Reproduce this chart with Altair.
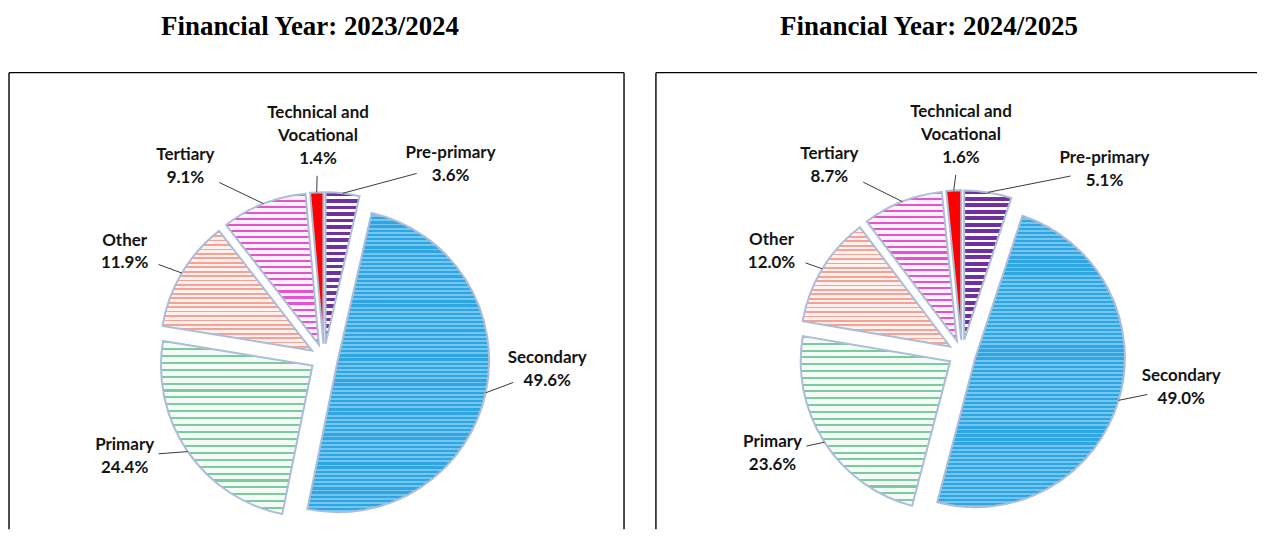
import math
import textwrap
import altair as alt
import pandas as pd

# ---------------- data ----------------
categories = ["Pre-primary", "Secondary", "Primary", "Other", "Tertiary",
              "Technical and Vocational"]
share_2023_24 = [3.6, 49.6, 24.4, 11.9, 9.1, 1.4]
share_2024_25 = [5.1, 49.0, 23.6, 12.0, 8.7, 1.6]
titles = ["Financial Year: 2023/2024", "Financial Year: 2024/2025"]

# ---------------- layout (pixels) ----------------
# label centre offsets from the pie centre
label_offsets_2023_24 = {
    "Pre-primary": (127, -194), "Secondary": (224, 12), "Primary": (-200, 99),
    "Other": (-200, -106), "Tertiary": (-139, -192),
    "Technical and Vocational": (-6, -222),
}
label_offsets_2024_25 = {
    "Pre-primary": (143, -185), "Secondary": (220, 34), "Primary": (-190, 100),
    "Other": (-191, -103), "Tertiary": (-133, -189),
    "Technical and Vocational": (-1, -219),
}

EXPLODE = 14
OUTLINE = "#adbdd8"
LINE_H = 23


def stripes(color_a, color_b, n, frac):
    stops = []
    for i in range(n):
        a0 = round(i / n, 5)
        a1 = round((i + frac) / n, 5)
        b1 = round((i + 1) / n, 5)
        stops += [
            alt.GradientStop(color=color_a, offset=a0),
            alt.GradientStop(color=color_a, offset=a1),
            alt.GradientStop(color=color_b, offset=a1),
            alt.GradientStop(color=color_b, offset=b1),
        ]
    return alt.LinearGradient(gradient="linear", stops=stops, x1=0, y1=0, x2=0, y2=1)


FILLS = {
    "Pre-primary": stripes("#7030a0", "#ffffff", 23, 0.55),
    "Secondary": stripes("#2fa6e2", "#74c6ef", 72, 0.55),
    "Primary": stripes("#7ccb9f", "#f4fbf7", 25, 0.3),
    "Other": stripes("#f3a295", "#fdf0ed", 27, 0.4),
    "Tertiary": stripes("#e255cc", "#fdf0fa", 25, 0.35),
    "Technical and Vocational": "#ff0000",
}


def panel(values, title, W, H, cx, cy, R, offsets, title_dx, right_border):
    names = [textwrap.wrap(c, 14) for c in categories]
    df = pd.DataFrame({
        "cat": categories,
        "value": values,
        "order": list(range(len(categories))),
        "name": ["\n".join(n) for n in names],
        "nlines": [len(n) + 1 for n in names],
        "ldx": [offsets[c][0] for c in categories],
        "ldy": [offsets[c][1] for c in categories],
    })
    base = (
        alt.Chart(df)
        .transform_window(cum="sum(value)", sort=[alt.SortField("order", order="ascending")],
                          frame=[None, 0])
        .transform_calculate(start="datum.cum - datum.value")
        .transform_calculate(mid="(datum.cum - datum.value / 2) / 100 * 2 * PI")
        .transform_calculate(px=f"{cx} + {EXPLODE} * sin(datum.mid)")
        .transform_calculate(py=f"{cy} - {EXPLODE} * cos(datum.mid)")
        .transform_calculate(ex=f"{cx} + {R + EXPLODE} * sin(datum.mid)")
        .transform_calculate(ey=f"{cy} - {R + EXPLODE} * cos(datum.mid)")
        .transform_calculate(lx=f"{cx} + datum.ldx")
        .transform_calculate(ly=f"{cy} + datum.ldy")
        .transform_calculate(ty=f"datum.ly - (datum.nlines - 1) * {LINE_H / 2}")
        .transform_calculate(label="datum.name + '\\n' + format(datum.value, '.1f') + '%'")
        .transform_calculate(dist="sqrt(pow(datum.ex - datum.lx, 2) + pow(datum.ey - datum.ly, 2))")
        .transform_calculate(ux="(datum.ex - datum.lx) / datum.dist")
        .transform_calculate(uy="(datum.ey - datum.ly) / datum.dist")
        .transform_calculate(
            g="min(34 / max(abs(datum.ux), 0.0001), (datum.nlines * 11.5 + 5) / max(abs(datum.uy), 0.0001))")
        .transform_calculate(endx="datum.lx + datum.ux * datum.g")
        .transform_calculate(endy="datum.ly + datum.uy * datum.g")
    )

    layers = []
    for c in categories:
        layers.append(
            base.transform_filter(alt.datum.cat == c)
            .mark_arc(radius=R, fill=FILLS[c], stroke=OUTLINE, strokeWidth=2)
            .encode(
                theta=alt.Theta("start:Q", stack=None,
                                scale=alt.Scale(domain=[0, 100], range=[0, 2 * math.pi])),
                theta2="cum:Q",
                x=alt.X("px:Q", scale=None),
                y=alt.Y("py:Q", scale=None),
            )
        )

    leaders = base.mark_rule(color="#3a3a3a", strokeWidth=1).encode(
        x=alt.X("ex:Q", scale=None), y=alt.Y("ey:Q", scale=None),
        x2="endx:Q", y2="endy:Q",
    )
    labels = base.mark_text(
        font="Lato", fontWeight="bold", fontSize=17, lineBreak="\n", lineHeight=LINE_H,
        align="center", baseline="middle", color="#141414",
    ).encode(
        x=alt.X("lx:Q", scale=None), y=alt.Y("ty:Q", scale=None), text="label:N"
    )

    frame = pd.DataFrame({"k": [0]})
    border = [
        alt.Chart(frame).mark_rule(color="black", strokeWidth=1.4).encode(
            x=alt.value(0), x2=alt.value(W), y=alt.value(0)),
        alt.Chart(frame).mark_rule(color="black", strokeWidth=1.4).encode(
            x=alt.value(0), y=alt.value(0), y2=alt.value(H)),
    ]
    if right_border:
        border.append(
            alt.Chart(frame).mark_rule(color="black", strokeWidth=1.4).encode(
                x=alt.value(W), y=alt.value(0), y2=alt.value(H)))

    return alt.layer(*border, *layers, leaders, labels).properties(
        width=W, height=H,
        title=alt.TitleParams(
            text=title, font="Liberation Serif", fontSize=27, fontWeight="bold",
            color="black", anchor="middle", frame="group", dx=title_dx,
            offset=10, baseline="alphabetic",
        ),
    )


left = panel(share_2023_24, titles[0], 617, 458, 316, 286, 152,
             label_offsets_2023_24, -6.5, True)
right = panel(share_2024_25, titles[1], 603, 458, 307, 282, 150,
              label_offsets_2024_25, -27.5, False)

chart = (
    alt.hconcat(left, right, spacing=30)
    .properties(padding={"left": 0, "top": 4, "right": 0, "bottom": 0}, background="white")
    .configure_view(stroke=None)
)

chart.save("out.html", embed_options={"renderer": "svg", "actions": False})
